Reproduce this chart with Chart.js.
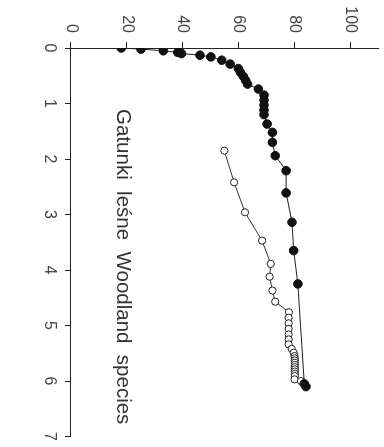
<!DOCTYPE html>
<html>
<head>
<meta charset="utf-8">
<script src="https://cdn.jsdelivr.net/npm/chart.js@4"></script>
<style>
  html, body { margin: 0; padding: 0; background: #fff; overflow: hidden; }
  #wrap { position: absolute; left: 0; top: 0; width: 447px; height: 384px;
          transform-origin: 0 0; transform: translateX(384px) rotate(90deg); }
</style>
</head>
<body>
<div id="wrap"><canvas id="c" width="447" height="384"></canvas></div>
<script>
// Distance axis ticks and value axis ticks
const distanceTicks = [0, 1, 2, 3, 4, 5, 6, 7];
const valueTicks = [0, 20, 40, 60, 80, 100];

// Filled series (woodland species, cumulative)
const filledT = [0, 0.02, 0.05, 0.08, 0.1, 0.13, 0.16, 0.22, 0.29, 0.37, 0.44, 0.51, 0.58, 0.65, 0.74, 0.85, 0.94, 1.03, 1.12, 1.2, 1.37, 1.52, 1.70, 1.94, 2.21, 2.61, 3.14, 3.65, 4.25, 6.05, 6.1];
const filledV = [18, 25, 33, 38.2, 39.5, 46.1, 50, 53.9, 56.9, 59.8, 60.6, 61.6, 62.4, 63.1, 67, 69, 69, 69, 69, 69, 70.1, 72, 72, 73, 76.9, 76.9, 79, 79.6, 81.1, 83.4, 84];

// Open series
const openT = [1.85, 2.42, 2.96, 3.47, 3.89, 4.12, 4.37, 4.57, 4.76, 4.86, 4.96, 5.06, 5.16, 5.25, 5.34, 5.42, 5.49, 5.55, 5.59, 5.63, 5.67, 5.71, 5.75, 5.79, 5.83, 5.87, 5.91, 5.97, 6.0];
const openV = [54.8, 58.3, 62.2, 68.3, 71.4, 71.0, 72.0, 73.0, 77.9, 77.8, 77.8, 77.8, 77.8, 77.8, 77.8, 78.9, 79.6, 79.9, 80, 80, 80, 80, 80, 80, 80, 80, 80, 79.9, 82.2];

const labelText = 'Gatunki  leśne  Woodland  species';
const labelAt = { t: 3.94, v: 18.6 };

const toPts = (xs, ys) => xs.map((x, i) => ({ x: x, y: ys[i] }));

const innerLabel = {
  id: 'innerLabel',
  afterDatasetsDraw(chart) {
    const ctx = chart.ctx;
    const x = chart.scales.x.getPixelForValue(labelAt.t);
    const y = chart.scales.y.getPixelForValue(labelAt.v);
    ctx.save();
    ctx.font = '20.5px "Liberation Sans", Arial, sans-serif';
    ctx.fillStyle = '#333';
    ctx.textAlign = 'center';
    ctx.textBaseline = 'middle';
    ctx.fillText(labelText, x, y);
    ctx.restore();
  }
};

new Chart(document.getElementById('c'), {
  type: 'scatter',
  data: {
    datasets: [
      {
        data: toPts(filledT, filledV),
        showLine: true,
        borderColor: '#222',
        borderWidth: 1,
        backgroundColor: '#111',
        pointBackgroundColor: '#111',
        pointBorderColor: '#111',
        pointBorderWidth: 1,
        pointRadius: 4.3
      },
      {
        data: toPts(openT, openV),
        showLine: true,
        borderColor: '#333',
        borderWidth: 1,
        backgroundColor: '#fff',
        pointBackgroundColor: '#fff',
        pointBorderColor: '#222',
        pointBorderWidth: 1,
        pointRadius: 3.6
      }
    ]
  },
  options: {
    responsive: false,
    animation: false,
    layout: { padding: { top: 1, right: 10, left: 0, bottom: 0 } },
    plugins: { legend: { display: false }, tooltip: { enabled: false } },
    scales: {
      x: {
        type: 'linear', min: 0, max: 7,
        afterBuildTicks: s => { s.ticks = distanceTicks.map(v => ({ value: v })); },
        afterFit: s => { s.height = 71; },
        ticks: { font: { size: 16, family: '"Liberation Sans", Arial, sans-serif' }, color: '#444', padding: 6, maxRotation: 0 },
        grid: { display: true, drawOnChartArea: false, drawTicks: true, tickLength: 6, color: '#222' },
        border: { display: true, color: '#222', width: 1 }
      },
      y: {
        type: 'linear', min: 0, max: 110,
        afterBuildTicks: s => { s.ticks = valueTicks.map(v => ({ value: v })); },
        afterFit: s => { s.width = 48; s.paddingTop = 0; s.paddingBottom = 0; },
        ticks: { font: { size: 16, family: '"Liberation Sans", Arial, sans-serif' }, color: '#444', padding: 9 },
        grid: { display: true, drawOnChartArea: false, drawTicks: true, tickLength: 6, color: '#222' },
        border: { display: true, color: '#222', width: 1 }
      }
    }
  },
  plugins: [innerLabel]
});
</script>
</body>
</html>
